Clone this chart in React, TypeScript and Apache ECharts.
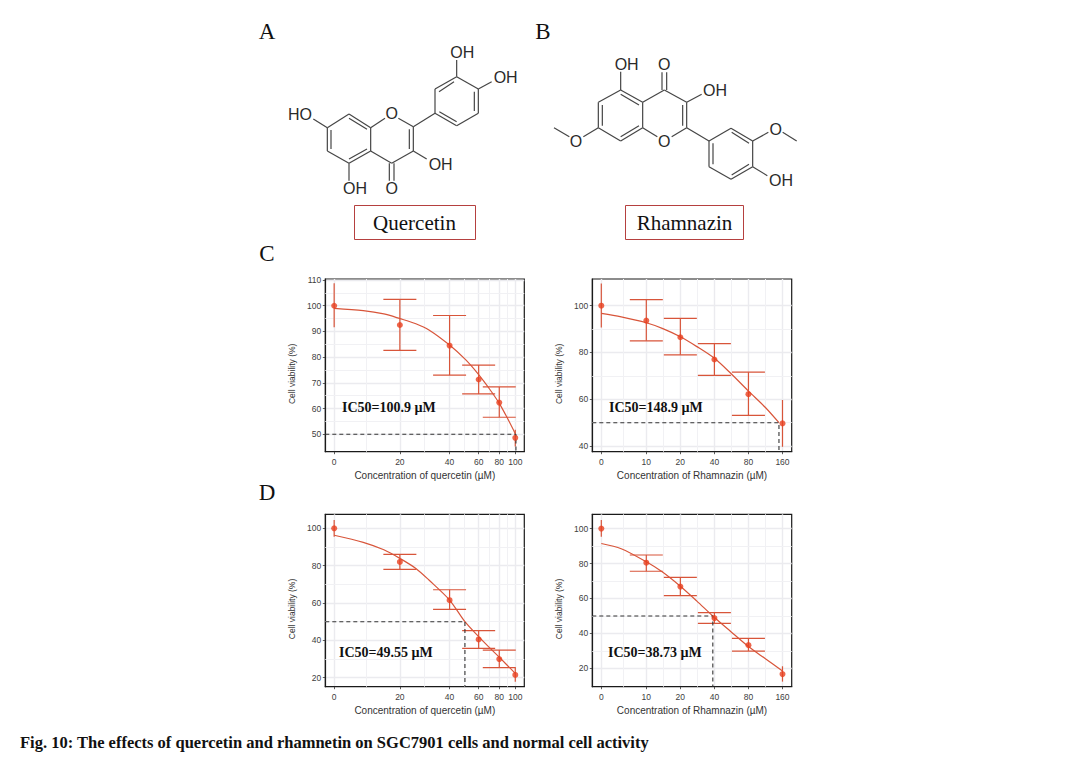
import React, { useEffect, useRef } from "react";
import * as echarts from "echarts";

// ---- tick labels and read values ----
const quercetinTicks = [0, 20, 40, 60, 80, 100];
const rhamnazinTicks = [0, 10, 20, 40, 80, 160];

const c1Y = [100, 92.5, 84.5, 71.3, 62.3, 48.6];
const c1Low = [91.6, 82.6, 73, 65.7, 56.6, 45.2];
const c1High = [108.7, 102.5, 96.2, 76.9, 68.4, 51.7];
const c1CurveX = [0, 12, 16, 20, 25, 30, 40, 50, 60, 70, 80, 90, 100];
const c1CurveY = [99, 98.1, 96.8, 95, 93, 90.6, 84.7, 79, 73.2, 67.5, 62, 56, 50.2];

const c2Y = [100, 93.6, 86.5, 77, 62.2, 49.7];
const c2Low = [90.7, 85, 79, 70.2, 53.1, 39.7];
const c2High = [109.5, 102.6, 94.6, 83.8, 71.6, 59.7];
const c2CurveX = [0, 6, 10, 14, 20, 28, 40, 56, 80, 113, 148.9];
const c2CurveY = [96.7, 95.2, 92.7, 90.2, 86.7, 82.5, 77.5, 71, 63.5, 56.5, 50];

const d1Y = [100, 82, 61.5, 40.5, 30, 21.5];
const d1Low = [95.5, 78, 56.6, 35.7, 25.4, 17.9];
const d1High = [104.5, 86, 67.1, 45.2, 34.8, 25.4];
const d1CurveX = [0, 12, 16, 20, 25, 30, 40, 49.55, 60, 70, 80, 100];
const d1CurveY = [96.3, 92.5, 88.5, 83.9, 78.5, 72.3, 61.6, 50, 42, 36, 31, 22.3];

const d2Y = [100, 80.5, 66.8, 48.8, 33.3, 16.7];
const d2Low = [95.4, 75.6, 61.6, 45.8, 29.9, 12.4];
const d2High = [105, 84.9, 72.1, 51.9, 37.2, 21.2];
const d2CurveX = [0, 6, 10, 14, 20, 28, 38.73, 56, 80, 113, 160];
const d2CurveY = [91.5, 88.5, 81, 75, 67, 58.5, 50, 41, 32.5, 25.5, 18.5];

const c1YTicks = [50, 60, 70, 80, 90, 100, 110];
const c2YTicks = [40, 60, 80, 100];
const d1YTicks = [20, 40, 60, 80, 100];
const d2YTicks = [20, 40, 60, 80, 100];

const RED_LINE = "#d8553a";
const RED_DOT = "#e8401f";
const GRID = "#ebebef";
const INK = "#404040";

type Panel = {
  ticks: number[]; zeroAt: number; yTicks: number[]; y: number[]; low: number[]; high: number[];
  cx: number[]; cy: number[]; ic50: number; xTitle: string; label: string;
  box: [number, number, number, number]; xRange: [number, number]; yRange: [number, number];
  labelAt: [number, number];
};

const panels: Panel[] = [
  { ticks: quercetinTicks, zeroAt: 8, yTicks: c1YTicks, y: c1Y, low: c1Low, high: c1High, cx: c1CurveX, cy: c1CurveY,
    ic50: 100.9, xTitle: "Concentration of quercetin (µM)", label: "IC50=100.9 µM",
    box: [325.3, 279, 199, 172.7], xRange: [7.07, 113.4], yRange: [43.2, 110.4], labelAt: [342, 407] },
  { ticks: rhamnazinTicks, zeroAt: 4, yTicks: c2YTicks, y: c2Y, low: c2Low, high: c2High, cx: c2CurveX, cy: c2CurveY,
    ic50: 148.9, xTitle: "Concentration of Rhamnazin (µM)", label: "IC50=148.9 µM",
    box: [592.3, 279, 199.4, 172.7], xRange: [3.33, 193], yRange: [37.6, 111.4], labelAt: [609, 407] },
  { ticks: quercetinTicks, zeroAt: 8, yTicks: d1YTicks, y: d1Y, low: d1Low, high: d1High, cx: d1CurveX, cy: d1CurveY,
    ic50: 49.55, xTitle: "Concentration of quercetin (µM)", label: "IC50=49.55 µM",
    box: [325.3, 514.3, 199, 172.4], xRange: [7.07, 113.4], yRange: [15.2, 107.5], labelAt: [339, 652] },
  { ticks: rhamnazinTicks, zeroAt: 4, yTicks: d2YTicks, y: d2Y, low: d2Low, high: d2High, cx: d2CurveX, cy: d2CurveY,
    ic50: 38.73, xTitle: "Concentration of Rhamnazin (µM)", label: "IC50=38.73 µM",
    box: [592.3, 514.3, 199.4, 172.4], xRange: [3.33, 193], yRange: [9.5, 108.2], labelAt: [608, 652] },
];

// ---- chemical structures, traced bond by bond ----
const quercetinBonds = [
  [232, 338, 297, 297], [297, 297, 362, 338], [362, 338, 362, 408], [362, 408, 297, 445], [297, 445, 232, 408], [232, 408, 232, 338],
  [243, 345, 243, 402], [297, 310, 351, 343], [297, 432, 351, 402],
  [362, 338, 405, 310], [445, 310, 490, 335], [490, 335, 490, 408], [490, 408, 425, 445], [425, 445, 362, 408],
  [478, 343, 478, 402], [418, 445, 418, 497], [432, 445, 432, 497], [490, 408, 530, 432],
  [490, 335, 555, 295], [555, 295, 555, 222], [555, 222, 620, 185], [620, 185, 685, 222], [685, 222, 685, 295], [685, 295, 620, 332], [620, 332, 555, 295],
  [567, 230, 612, 200], [673, 230, 673, 288], [568, 290, 620, 320],
  [620, 185, 620, 135], [685, 222, 725, 200], [232, 338, 190, 312], [297, 445, 297, 497],
];
const quercetinAtoms: [string, number, number][] = [
  ["OH", 637, 112], ["OH", 767, 186], ["HO", 150, 298], ["O", 425, 296], ["OH", 572, 447], ["OH", 315, 521], ["O", 425, 521],
];
const rhamnazinBonds = [
  [205, 262, 272, 225], [272, 225, 338, 262], [338, 262, 338, 338], [338, 338, 272, 378], [272, 378, 205, 338], [205, 338, 205, 262],
  [217, 270, 217, 332], [272, 238, 327, 270], [272, 365, 327, 332],
  [338, 262, 403, 225], [403, 225, 470, 262], [470, 262, 470, 338], [470, 338, 425, 365], [382, 365, 338, 338],
  [458, 270, 458, 332], [396, 225, 396, 172], [410, 225, 410, 172], [272, 225, 272, 170], [470, 262, 515, 238],
  [205, 338, 160, 365], [118, 365, 72, 338],
  [470, 338, 537, 378], [537, 378, 603, 340], [603, 340, 668, 378], [668, 378, 668, 455], [668, 455, 603, 493], [603, 493, 537, 455], [537, 455, 537, 378],
  [549, 385, 549, 448], [605, 352, 657, 385], [605, 480, 657, 448],
  [668, 378, 715, 352], [758, 352, 800, 378], [668, 455, 712, 482],
];
const rhamnazinAtoms: [string, number, number][] = [
  ["OH", 290, 148], ["O", 403, 148], ["OH", 555, 225], ["O", 138, 380], ["O", 403, 380], ["O", 737, 342], ["OH", 753, 497],
];

function molecule(bonds: number[][], atoms: [string, number, number][], ox: number, oy: number) {
  const els: any[] = [];
  bonds.forEach(([a, b, c, d]) =>
    els.push({ type: "line", shape: { x1: ox + a / 3, y1: oy + b / 3, x2: ox + c / 3, y2: oy + d / 3 }, style: { stroke: "#454545", lineWidth: 1.2 } })
  );
  atoms.forEach(([t, x, y]) =>
    els.push({ type: "text", style: { text: t, x: ox + x / 3, y: oy + y / 3, fill: "#2a2a2a", font: '16px "Liberation Sans"', textAlign: "center", textVerticalAlign: "middle" } })
  );
  return els;
}

function serif(text: string, x: number, y: number, size: number, weight = "normal", align = "center") {
  return { type: "text", z: 20, style: { text, x, y, fill: "#111", font: `${weight} ${size}px "Liberation Serif"`, textAlign: align, textVerticalAlign: "middle" } };
}

function buildOption() {
  const grid: any[] = [], xAxis: any[] = [], yAxis: any[] = [], series: any[] = [];
  const graphic: any[] = [
    ...molecule(quercetinBonds, quercetinAtoms, 250, 15),
    ...molecule(rhamnazinBonds, rhamnazinAtoms, 530, 15),
    { type: "rect", shape: { x: 354.5, y: 205.5, width: 121, height: 34 }, style: { fill: "none", stroke: "#b5403f", lineWidth: 1 } },
    { type: "rect", shape: { x: 625.5, y: 205.5, width: 118, height: 34 }, style: { fill: "none", stroke: "#b5403f", lineWidth: 1 } },
    serif("Quercetin", 414.5, 223, 21),
    serif("Rhamnazin", 684.5, 223, 21),
    serif("A", 267, 31, 23), serif("B", 543, 31, 23), serif("C", 267, 253, 23), serif("D", 267, 492, 23),
    serif("Fig. 10: The effects of quercetin and rhamnetin on SGC7901 cells and normal cell activity", 20, 742, 16.5, "bold", "left"),
  ];

  panels.forEach((p, i) => {
    const lx = (c: number) => Math.log10(c === 0 ? p.zeroAt : c);
    const xTickVals = p.ticks.map(lx);
    const xMinor = xTickVals.slice(1).map((v, k) => (v + xTickVals[k]) / 2);
    const yMinor = p.yTicks.slice(1).map((v, k) => (v + p.yTicks[k]) / 2);
    const [left, top, width, height] = p.box;
    grid.push({ left, top, width, height, show: true, borderColor: "#1a1a1a", borderWidth: 1.2, backgroundColor: "#fff" });
    xAxis.push({
      gridIndex: i, type: "value", min: lx(p.xRange[0]), max: lx(p.xRange[1]),
      name: p.xTitle, nameLocation: "middle", nameGap: 19,
      nameTextStyle: { fontFamily: "Liberation Sans", fontSize: 10, color: "#333" },
      axisLine: { show: true, onZero: false, lineStyle: { color: "#1a1a1a", width: 1.2 } },
      axisTick: { show: true, length: 2.5, customValues: xTickVals, lineStyle: { color: "#333", width: 0.8 } },
      axisLabel: {
        customValues: xTickVals, margin: 6, fontFamily: "Liberation Sans", fontSize: 8.5, color: INK,
        formatter: (v: number) => {
          let best = 0;
          xTickVals.forEach((t, k) => { if (Math.abs(t - v) < Math.abs(xTickVals[best] - v)) best = k; });
          return String(p.ticks[best]);
        },
      },
      splitLine: { show: true, lineStyle: { color: GRID, width: 1.4 } },
    });
    yAxis.push({
      gridIndex: i, type: "value", min: p.yRange[0], max: p.yRange[1],
      name: "Cell viability (%)", nameLocation: "middle", nameGap: 29,
      nameTextStyle: { fontFamily: "Liberation Sans", fontSize: 8.5, color: "#333", padding: [0, 17, 0, 0] },
      axisLine: { show: true, onZero: false, lineStyle: { color: "#1a1a1a", width: 1.2 } },
      axisTick: { show: true, length: 2.5, customValues: p.yTicks, lineStyle: { color: "#333", width: 0.8 } },
      axisLabel: { customValues: p.yTicks, margin: 4, fontFamily: "Liberation Sans", fontSize: 8.5, color: INK },
      splitLine: { show: true, lineStyle: { color: GRID, width: 1.4 } },
    });
    const common = { xAxisIndex: i, yAxisIndex: i };
    series.push({
      ...common, type: "line", data: [], silent: true, z: 1,
      markLine: {
        silent: true, symbol: "none", label: { show: false }, z: 1,
        lineStyle: { color: "#f1f1f4", width: 1, type: "solid" },
        data: [...xMinor.map((v) => ({ xAxis: v })), ...yMinor.map((v) => ({ yAxis: v }))],
      },
    });
    series.push({
      ...common, type: "line", name: "fit", showSymbol: false, smooth: 0.3, silent: true, z: 6,
      lineStyle: { color: RED_LINE, width: 1.2 },
      data: p.cx.map((c, k) => [lx(c), p.cy[k]]),
    });
    series.push({
      ...common, type: "custom", name: "error", z: 6,
      data: p.ticks.map((c, k) => [lx(c), p.low[k], p.high[k], k === 0 || k === p.ticks.length - 1 ? 0 : 16.5]),
      encode: { x: 0, y: [1, 2] },
      renderItem: (_: any, api: any) => {
        const x = api.value(0);
        const lo = api.coord([x, api.value(1)]);
        const hi = api.coord([x, api.value(2)]);
        const cap = api.value(3);
        const st = { stroke: RED_LINE, lineWidth: 1.2, fill: "none" };
        const kids: any[] = [{ type: "line", shape: { x1: lo[0], y1: lo[1], x2: hi[0], y2: hi[1] }, style: st }];
        if (cap > 0) {
          kids.push({ type: "line", shape: { x1: lo[0] - cap, y1: lo[1], x2: lo[0] + cap, y2: lo[1] }, style: st });
          kids.push({ type: "line", shape: { x1: hi[0] - cap, y1: hi[1], x2: hi[0] + cap, y2: hi[1] }, style: st });
        }
        return { type: "group", children: kids };
      },
    });
    series.push({
      ...common, type: "line", name: "ic50", showSymbol: false, silent: true, z: 7,
      lineStyle: { color: "#333", width: 1.1, type: [4, 3] },
      data: [[lx(p.xRange[0]), 50], [lx(p.ic50), 50], [lx(p.ic50), p.yRange[0]]],
    });
    series.push({
      ...common, type: "scatter", name: "mean", symbolSize: 6, silent: true, z: 8,
      itemStyle: { color: RED_DOT },
      data: p.ticks.map((c, k) => [lx(c), p.y[k]]),
    });
    graphic.push(serif(p.label, p.labelAt[0], p.labelAt[1], 14, "bold", "left"));
  });

  return { animation: false, backgroundColor: "#fff", grid, xAxis, yAxis, series, graphic };
}

export default function App() {
  const ref = useRef<HTMLDivElement>(null);
  useEffect(() => {
    document.body.style.margin = "0";
    const chart = echarts.init(ref.current!, undefined, { renderer: "svg" });
    chart.setOption(buildOption() as any);
    return () => chart.dispose();
  }, []);
  return <div ref={ref} style={{ width: 1071, height: 760 }} />;
}
